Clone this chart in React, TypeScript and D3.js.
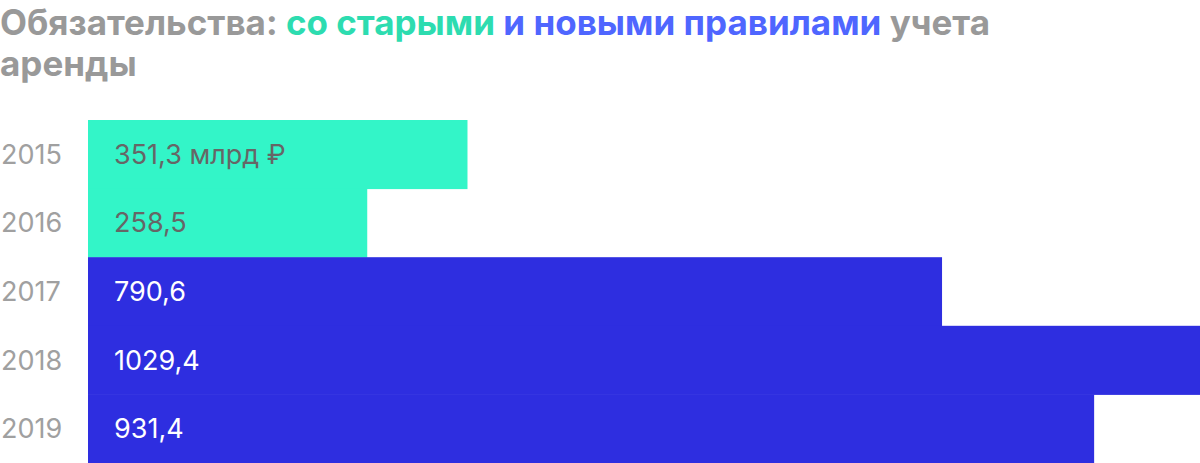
import { useEffect, useRef } from 'react';
import * as d3 from 'd3';

const years = ['2015', '2016', '2017', '2018', '2019'];
const values = [351.3, 258.5, 790.6, 1029.4, 931.4];
const valueLabels = ['351,3 млрд ₽', '258,5', '790,6', '1029,4', '931,4'];
const oldRules = ['2015', '2016'];

const titleParts = [
  { text: 'Обязательства: ', color: '#999999' },
  { text: 'со старыми', color: '#2ddcb0' },
  { text: ' и новыми правилами', color: '#4f66ff' },
  { text: ' учета', color: '#999999' },
];

export default function App() {
  const svgRef = useRef<SVGSVGElement>(null);

  useEffect(() => {
    document.body.style.margin = '0';
    if (!svgRef.current) return;

    const width = 1200;
    const height = 463;
    const margin = { top: 120, right: 0, bottom: 0, left: 88 };

    const svg = d3.select(svgRef.current);
    svg.selectAll('*').remove();
    svg.attr('width', width).attr('height', height).style('font-family', 'Inter, sans-serif');

    // Title
    const title = svg.append('text')
      .attr('x', 0)
      .attr('y', 35)
      .attr('font-size', 35)
      .attr('font-weight', 700);
    titleParts.forEach(p => {
      title.append('tspan').attr('fill', p.color).text(p.text);
    });
    svg.append('text')
      .attr('x', 0)
      .attr('y', 76)
      .attr('font-size', 35)
      .attr('font-weight', 700)
      .attr('fill', '#999999')
      .text('аренды');

    const x = d3.scaleLinear()
      .domain([0, d3.max(values) as number])
      .range([margin.left, width - margin.right]);

    const y = d3.scaleBand()
      .domain(years)
      .range([margin.top, height - margin.bottom])
      .padding(0);

    const rows = years.map((year, i) => ({ year, value: values[i], label: valueLabels[i], old: oldRules.includes(year) }));

    svg.append('g')
      .selectAll('rect')
      .data(rows)
      .join('rect')
      .attr('x', x(0))
      .attr('y', d => y(d.year) as number)
      .attr('width', d => x(d.value) - x(0))
      .attr('height', y.bandwidth() + 0.5)
      .attr('fill', d => d.old ? '#33f5c8' : '#2e2ee0');

    // year labels
    svg.append('g')
      .selectAll('text')
      .data(rows)
      .join('text')
      .attr('x', 1)
      .attr('y', d => (y(d.year) as number) + y.bandwidth() / 2)
      .attr('dy', '0.35em')
      .attr('font-size', 27)
      .attr('fill', '#a0a0a0')
      .text(d => d.year);

    // value labels
    svg.append('g')
      .selectAll('text')
      .data(rows)
      .join('text')
      .attr('x', x(0) + 26)
      .attr('y', d => (y(d.year) as number) + y.bandwidth() / 2)
      .attr('dy', '0.35em')
      .attr('font-size', 27)
      .attr('fill', d => d.old ? '#666666' : '#ffffff')
      .text(d => d.label);
  }, []);

  return <svg ref={svgRef} style={{ display: 'block' }} />;
}
